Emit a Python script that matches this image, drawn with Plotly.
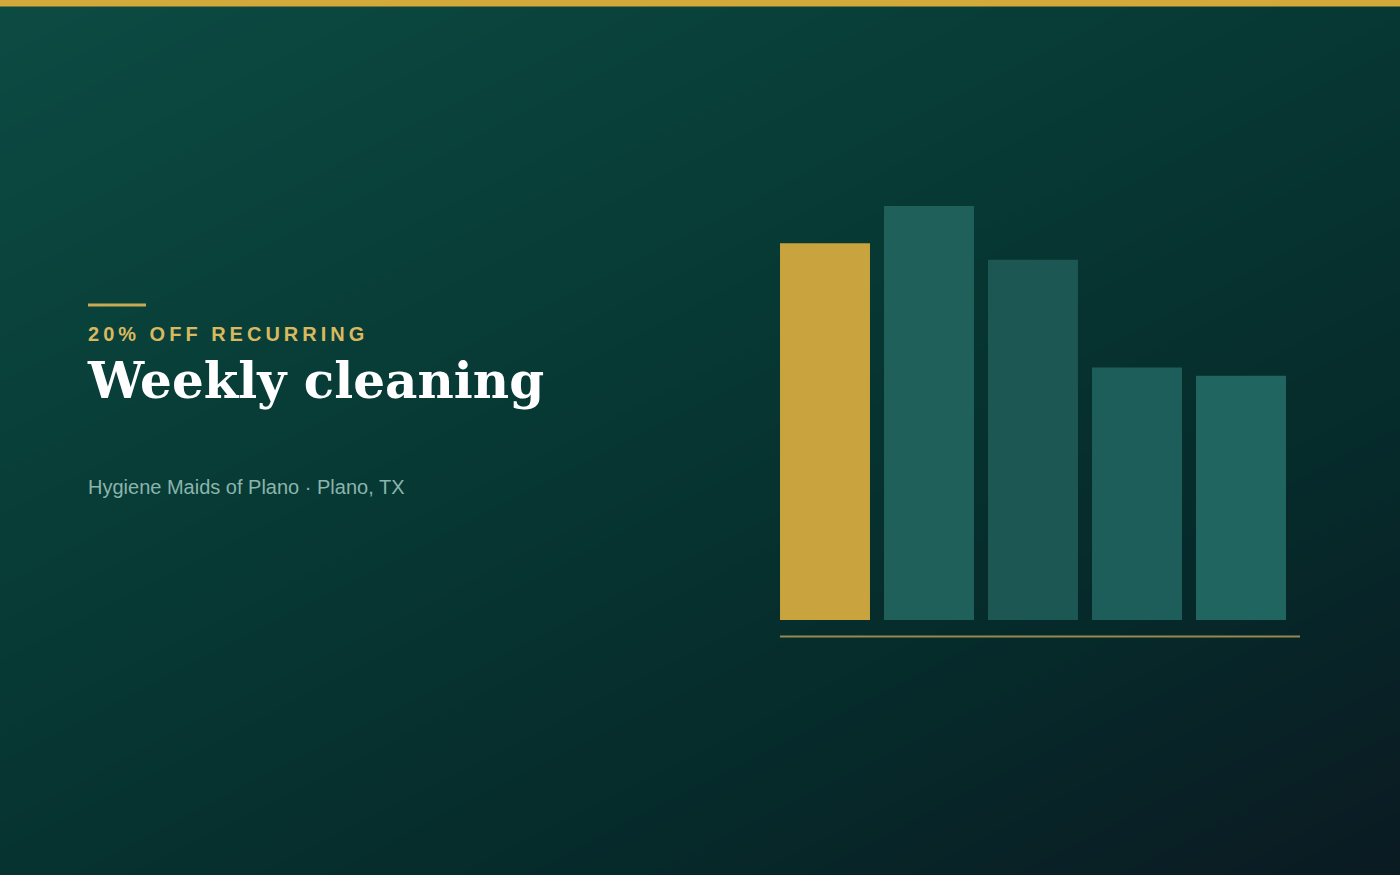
import numpy as np
import plotly.graph_objects as go

W, H = 1400, 875

# bar data (relative heights)
categories = ["A", "B", "C", "D", "E"]
values = [91, 100, 87, 61, 59]
bar_colors = ["#c9a43e", "#1f605b", "#1c5753", "#1e5e5a", "#216561"]

kicker = "20% OFF RECURRING"
title = "Weekly cleaning"
subtitle = "Hygiene Maids of Plano · Plano, TX"


def px_x(x):
    return x / W


def px_y(y):
    return (H - y) / H


# background gradient (style only)
gx = np.linspace(-100, W + 100, 30)
gy = np.linspace(-100, H + 100, 20)
X, Y = np.meshgrid(gx, gy)
T = np.clip(0.45 * X / W + 0.55 * Y / H, 0, 1)

fig = go.Figure()
fig.add_trace(go.Heatmap(
    x=gx, y=gy, z=T, zmin=0, zmax=1, zsmooth="best", showscale=False,
    hoverinfo="skip", xaxis="x", yaxis="y",
    colorscale=[[0, "#0c4b43"], [0.45, "#073833"], [0.6, "#06302e"],
                [0.75, "#06292a"], [1, "#0b1a22"]],
))

fig.add_trace(go.Bar(
    x=categories, y=values, marker=dict(color=bar_colors, line=dict(width=0)),
    xaxis="x2", yaxis="y2", hoverinfo="skip",
))

# spaced kicker text
spaced = "\u2009".join(list(kicker))

fig.update_layout(
    width=W, height=H,
    margin=dict(l=0, r=0, t=0, b=0),
    paper_bgcolor="#0a3a35", plot_bgcolor="rgba(0,0,0,0)",
    showlegend=False, bargap=0.135,
    xaxis=dict(domain=[0, 1], range=[0, W], visible=False, fixedrange=True),
    yaxis=dict(domain=[0, 1], range=[H, 0], visible=False, fixedrange=True),
    xaxis2=dict(domain=[773 / W, 1293 / W], range=[-0.5, 4.5], visible=False,
                anchor="y2"),
    yaxis2=dict(domain=[px_y(620), px_y(206)], range=[0, 100], visible=False,
                anchor="x2"),
    shapes=[
        dict(type="rect", xref="paper", yref="paper", x0=0, x1=1,
             y0=px_y(6.5), y1=1, fillcolor="#d4a93c", line_width=0, layer="above"),
        dict(type="line", xref="paper", yref="paper", x0=px_x(88), x1=px_x(146),
             y0=px_y(305), y1=px_y(305), line=dict(color="#c9aa52", width=3),
             layer="above"),
        dict(type="line", xref="paper", yref="paper", x0=px_x(780), x1=px_x(1300),
             y0=px_y(636.5), y1=px_y(636.5),
             line=dict(color="rgba(201,170,88,0.75)", width=2), layer="above"),
    ],
    annotations=[
        dict(text="<b>" + spaced + "</b>", xref="paper", yref="paper",
             x=px_x(86), y=px_y(334), xanchor="left", yanchor="middle",
             showarrow=False,
             font=dict(family="Liberation Sans, Arial", size=20, color="#d8b95f")),
        dict(text="<b>" + title + "</b>", xref="paper", yref="paper",
             x=px_x(85), y=px_y(380), xanchor="left", yanchor="middle",
             showarrow=False,
             font=dict(family="DejaVu Serif, Georgia, serif", size=50, color="#ffffff")),
        dict(text=subtitle, xref="paper", yref="paper",
             x=px_x(86), y=px_y(487), xanchor="left", yanchor="middle",
             showarrow=False,
             font=dict(family="Liberation Sans, Arial", size=20, color="#8ab5ac")),
    ],
)

fig.write_html("out.html", config={"displayModeBar": False},
               post_script="document.body.style.margin='0';")
